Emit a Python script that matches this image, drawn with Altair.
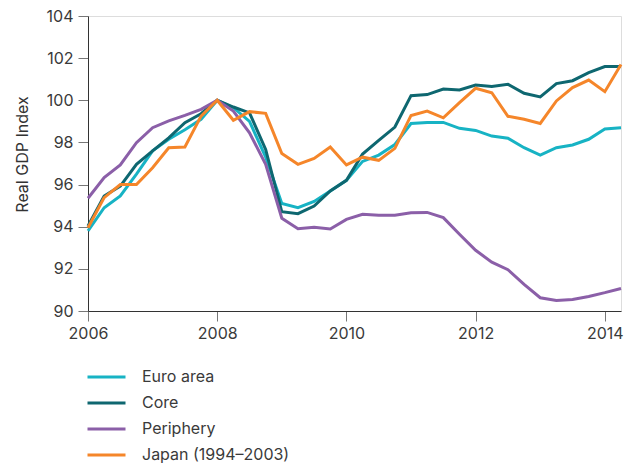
import altair as alt
import pandas as pd

quarters = [2006 + 0.25 * i for i in range(34)]

euro_area = [93.8, 94.9, 95.46, 96.5, 97.6, 98.15, 98.6, 99.1, 100.0, 99.65, 99.0, 97.3,
             95.1, 94.9, 95.2, 95.7, 96.2, 97.1, 97.4, 97.9, 98.9, 98.95, 98.95, 98.67,
             98.57, 98.3, 98.2, 97.75, 97.4, 97.75, 97.88, 98.15, 98.64, 98.7]
core = [94.03, 95.46, 95.93, 96.96, 97.6, 98.22, 98.94, 99.36, 100.0, 99.68, 99.4, 97.67,
        94.71, 94.62, 94.98, 95.7, 96.2, 97.45, 98.1, 98.73, 100.22, 100.27, 100.53, 100.49,
        100.72, 100.66, 100.76, 100.33, 100.16, 100.79, 100.93, 101.31, 101.6, 101.6]
periphery = [95.35, 96.33, 96.93, 97.99, 98.7, 99.02, 99.28, 99.57, 100.0, 99.49, 98.46, 96.96,
             94.4, 93.9, 93.98, 93.89, 94.35, 94.59, 94.55, 94.55, 94.66, 94.68, 94.43, 93.64,
             92.88, 92.32, 91.96, 91.26, 90.63, 90.5, 90.55, 90.69, 90.87, 91.07]
japan = [93.95, 95.38, 96.0, 96.0, 96.8, 97.75, 97.78, 99.25, 100.0, 99.05, 99.46, 99.38,
         97.47, 96.96, 97.24, 97.78, 96.93, 97.3, 97.15, 97.72, 99.28, 99.49, 99.17, 99.89,
         100.57, 100.36, 99.24, 99.1, 98.9, 99.97, 100.6, 100.96, 100.41, 101.7]

series_names = ["Euro area", "Core", "Periphery", "Japan (1994\u20132003)"]
series_colors = ["#17b3c4", "#0e6770", "#8b5fa8", "#f5862a"]
x_ticks = [2006, 2008, 2010, 2012, 2014]
y_ticks = [90, 92, 94, 96, 98, 100, 102, 104]

rows = []
for name, vals in zip(series_names, [euro_area, core, periphery, japan]):
    for q, v in zip(quarters, vals):
        rows.append({"quarter": q, "value": v, "series": name})
df = pd.DataFrame(rows)

FONT = "Inter"

chart = alt.Chart(df).mark_line(strokeWidth=3, strokeJoin="miter").encode(
    x=alt.X("quarter:Q",
            scale=alt.Scale(domain=[2006, 2014.25], nice=False, zero=False),
            axis=alt.Axis(values=x_ticks, format="d", title=None, grid=False,
                          labelFontSize=16, labelColor="#3a3a3a", labelFont=FONT,
                          tickSize=10, tickColor="#777777", domainColor="#333333",
                          labelPadding=4, labelFlush=False)),
    y=alt.Y("value:Q",
            scale=alt.Scale(domain=[90, 104], nice=False, zero=False),
            axis=alt.Axis(values=y_ticks, title="Real GDP Index", grid=False,
                          labelFontSize=16, labelColor="#3a3a3a", labelFont=FONT,
                          tickSize=10, tickColor="#777777", domainColor="#333333",
                          labelPadding=5,
                          titleFontSize=16, titleFont=FONT, titleColor="#333333",
                          titleFontWeight="normal", titleX=-58, titleY=138,
                          titleAlign="center", titleAngle=270)),
    color=alt.Color("series:N",
                    scale=alt.Scale(domain=series_names, range=series_colors),
                    sort=series_names,
                    legend=alt.Legend(title=None, orient="none", legendX=-2, legendY=348,
                                      symbolType="stroke", symbolStrokeWidth=3,
                                      symbolSize=1444, labelFontSize=16, labelFont=FONT,
                                      labelColor="#3a3a3a", labelOffset=15,
                                      clipHeight=26, rowPadding=0, direction="vertical")),
    order=alt.Order("quarter:Q"),
).properties(
    width=533, height=295,
    autosize=alt.AutoSizeParams(type="none"),
    padding={"left": 80, "top": 8, "right": 5, "bottom": 154},
).configure_view(stroke=None).configure(background="white")

chart.save("out.html", embed_options={"renderer": "svg", "actions": False})
